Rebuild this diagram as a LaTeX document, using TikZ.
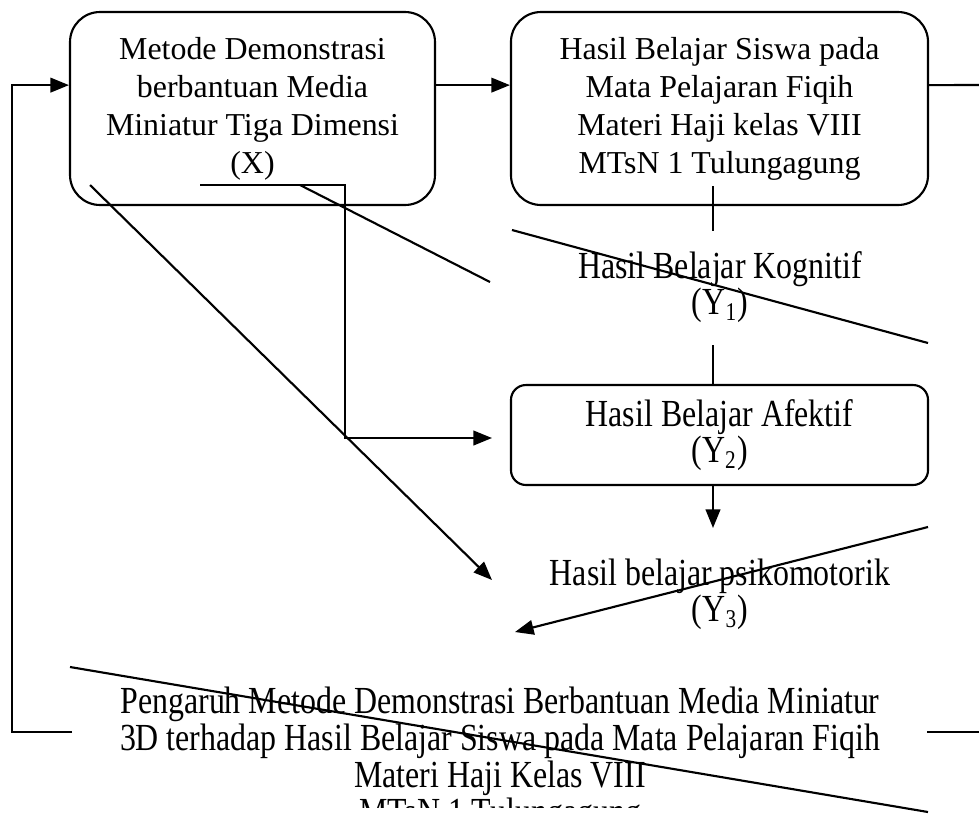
\documentclass[tikz,border=0pt]{standalone}
\usepackage{fontspec}
\usepackage{graphicx}
\setmainfont{Liberation Serif}
\usetikzlibrary{arrows.meta}
\newcommand{\tegak}[1]{\scalebox{1}[1.2]{#1}}

\begin{document}
\begin{tikzpicture}[x=0.3762pt, y=-0.3762pt, line width=0.8pt,
    font=\fontsize{12}{14.3}\selectfont,
    bigbox/.style={rectangle, draw, rounded corners=11.3pt, align=center, inner sep=0pt, minimum height=72.6pt},
    smallbox/.style={rectangle, draw, rounded corners=5.6pt, align=center, inner sep=0pt, minimum width=156.9pt, minimum height=37.6pt},
    teks/.style={align=center, font=\fontsize{12}{13.7}\selectfont},
    arr/.style={-{Triangle[length=7pt,width=5.5pt]}}]
    \useasboundingbox (0,0) rectangle (979,814);

    \node[bigbox, minimum width=137.3pt] (metode) at (252.5,108.5) {Metode Demonstrasi\\ berbantuan Media\\ Miniatur Tiga Dimensi\\ (X)};
    \node[bigbox, minimum width=156.9pt] (hasil) at (719.5,108.5) {Hasil Belajar Siswa pada\\ Mata Pelajaran Fiqih\\ Materi Haji kelas VIII\\ MTsN 1 Tulungagung};
    \node[teks] (kognitif) at (720,287) {\tegak{Hasil Belajar Kognitif}\\ \tegak{(Y\textsubscript{1})}};
    \node[smallbox, teks] (afektif) at (719.5,435) {\tegak{Hasil Belajar Afektif}\\ \tegak{(Y\textsubscript{2})}};
    \node[teks] (psiko) at (720,594) {\tegak{Hasil belajar psikomotorik}\\ \tegak{(Y\textsubscript{3})}};
    \begin{scope}
        \clip (0,0) rectangle (979,807);
        \node[teks, font=\fontsize{12}{14}\selectfont] (judul) at (500,760) {\tegak{Pengaruh Metode Demonstrasi Berbantuan Media Miniatur}\\ \tegak{3D terhadap Hasil Belajar Siswa pada Mata Pelajaran Fiqih}\\ \tegak{Materi Haji Kelas VIII}\\ \tegak{MTsN 1 Tulungagung}};
    \end{scope}

    \coordinate (kiri) at (12,732);
    \coordinate (kiri2) at (72,732);
    \coordinate (kanan) at (979,85);
    \coordinate (kanan2) at (927,732);
    \coordinate (kanan3) at (979,732);
    \coordinate (siku0) at (200,185);
    \coordinate (siku1) at (345,438);
    \coordinate (siku2) at (492,438);
    \coordinate (mir0) at (90,185);
    \coordinate (mir1) at (492,580);
    \coordinate (mir2) at (300,185);
    \coordinate (mir3) at (490,282);
    \coordinate (kog0) at (512,230);
    \coordinate (kog1) at (928,343);
    \coordinate (v0) at (713,186);
    \coordinate (v1) at (713,231);
    \coordinate (v2) at (713,345);
    \coordinate (ps0) at (713,528);
    \coordinate (ps1) at (928,527);
    \coordinate (ps2) at (515,632);
    \coordinate (bw0) at (70,667);
    \coordinate (bw1) at (928,812);

    \draw[arr] ([yshift=8.8pt]metode.east) -- ([yshift=8.8pt]hasil.west);
    \draw ([yshift=8.8pt]hasil.east) -- (kanan);
    \draw[arr] (kiri2) -- (kiri) |- ([yshift=8.8pt]metode.west);
    \draw (kanan2) -- (kanan3);
    \draw[arr] (siku0) -| (siku1) -- (siku2);
    \draw[arr] (mir0) -- (mir1);
    \draw (mir2) -- (mir3);
    \draw (kog0) -- (kog1);
    \draw (v0) -- (v1);
    \draw (v2) -- (v2 |- afektif.north);
    \draw[arr] (v2 |- afektif.south) -- (ps0);
    \draw[arr] (ps1) -- (ps2);
    \draw (bw0) -- (bw1);
\end{tikzpicture}
\end{document}
